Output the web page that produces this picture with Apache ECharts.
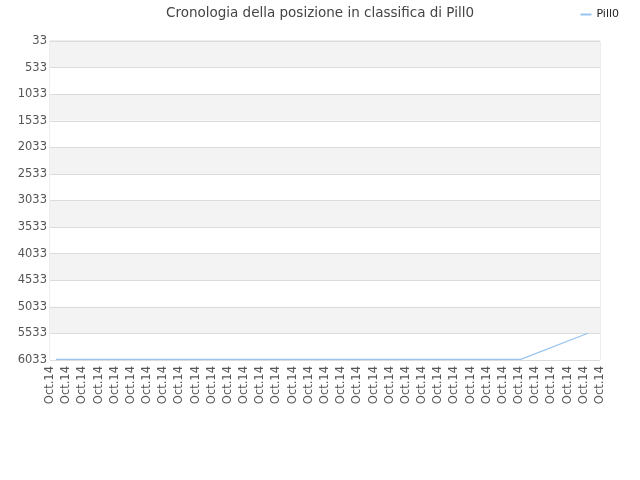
<!DOCTYPE html>
<html lang="it">
<head>
<meta charset="UTF-8">
<title>Cronologia</title>
<style>
  html, body { margin: 0; padding: 0; background: #fff; }
  #chart { width: 640px; height: 480px; }
</style>
</head>
<body>
<div id="chart"></div>
<script src="https://cdn.jsdelivr.net/npm/echarts@6/dist/echarts.min.js"></script>
<script>
  // tick labels along x (one per day slot)
  var xLabels = ['Oct.14', 'Oct.14', 'Oct.14', 'Oct.14', 'Oct.14', 'Oct.14', 'Oct.14',
    'Oct.14', 'Oct.14', 'Oct.14', 'Oct.14', 'Oct.14', 'Oct.14', 'Oct.14', 'Oct.14',
    'Oct.14', 'Oct.14', 'Oct.14', 'Oct.14', 'Oct.14', 'Oct.14', 'Oct.14', 'Oct.14',
    'Oct.14', 'Oct.14', 'Oct.14', 'Oct.14', 'Oct.14', 'Oct.14', 'Oct.14', 'Oct.14',
    'Oct.14', 'Oct.14', 'Oct.14', 'Oct.14'];
  // position of each sample on that label scale, and the rank it had
  var xPos = [0.37, 29.1, 33.25];
  var ranks = [6020, 6020, 5530];
  var seriesName = 'Pill0';

  var points = xPos.map(function (x, i) { return [x, ranks[i]]; });

  var myChart = echarts.init(document.getElementById('chart'));
  var option = {
    animation: false,
    textStyle: { fontFamily: 'DejaVu Sans' },
    title: {
      text: 'Cronologia della posizione in classifica di Pill0',
      left: 'center',
      top: 1,
      textStyle: { fontSize: 13.5, fontWeight: 'normal', color: '#444', fontFamily: 'DejaVu Sans' }
    },
    legend: {
      right: 16,
      top: 4,
      itemWidth: 11,
      itemHeight: 2,
      itemGap: 5,
      icon: 'rect',
      textStyle: { fontSize: 11, color: '#222', fontFamily: 'DejaVu Sans' },
      data: [seriesName]
    },
    grid: {
      left: 50,
      right: 40,
      top: 41,
      bottom: 120,
      show: true,
      borderColor: '#dcdcdc',
      borderWidth: 1
    },
    xAxis: {
      type: 'value',
      min: 0,
      max: xLabels.length - 1,
      interval: 1,
      axisLine: { show: false },
      axisTick: { show: false },
      splitLine: { show: false },
      axisLabel: {
        rotate: 90,
        fontSize: 11.5,
        color: '#555',
        margin: 6,
        showMinLabel: true,
        showMaxLabel: true,
        formatter: function (v) { return xLabels[Math.round(v)]; }
      }
    },
    yAxis: {
      type: 'value',
      inverse: true,
      min: 33,
      max: 6033,
      interval: 500,
      axisLine: { show: false },
      axisTick: { show: false },
      axisLabel: {
        fontSize: 11.5,
        color: '#555',
        margin: 3,
        padding: [4, 0, 0, 0],
        formatter: function (v) { return String(v); }
      },
      splitLine: { show: true, lineStyle: { color: '#dcdcdc', width: 1 } },
      splitArea: { show: true, areaStyle: { color: ['#f3f3f3', '#ffffff'] } }
    },
    series: [
      {
        name: seriesName,
        type: 'line',
        data: points,
        showSymbol: false,
        symbol: 'none',
        lineStyle: { color: '#99c4f0', width: 1.3 },
        itemStyle: { color: '#99c4f0' }
      }
    ]
  };
  myChart.setOption(option);
</script>
</body>
</html>
